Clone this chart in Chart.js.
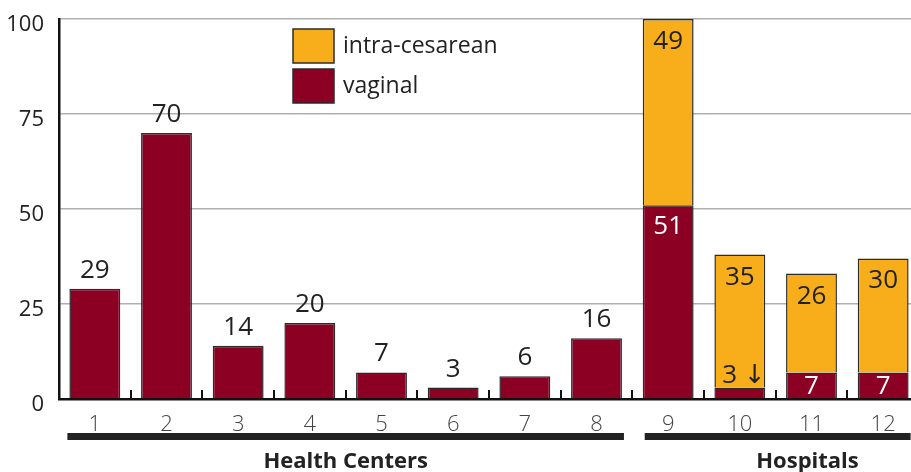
<!DOCTYPE html>
<html>
<head>
<meta charset="utf-8">
<script src="https://cdn.jsdelivr.net/npm/chart.js@4/dist/chart.umd.min.js"></script>
<style>
  html, body { margin:0; padding:0; background:#fff; overflow:hidden; }
  canvas { display:block; }
</style>
</head>
<body>
<!-- the last category runs a few pixels past the right edge of the window, as in the source -->
<canvas id="chart" width="919" height="472"></canvas>
<script>
// data
const categories = ['1','2','3','4','5','6','7','8','9','10','11','12'];
const vaginal = [29, 70, 14, 20, 7, 3, 6, 16, 51, 3, 7, 7];
const intraCesarean = [null, null, null, null, null, null, null, null, 49, 35, 26, 30];
const yTicks = [0, 25, 50, 75, 100];
const groupNames = ['Health Centers', 'Hospitals'];
const groupStart = [0, 8];
const groupEnd = [7, 11];

const MAROON = '#8c0024';
const ORANGE = '#f8ae1b';
const EDGE = '#2b2b2b';
const FONT = '"Open Sans", "DejaVu Sans", sans-serif';

// value labels on top of / inside the bars
const barLabels = {
  id: 'barLabels',
  afterDatasetsDraw(chart) {
    const ctx = chart.ctx;
    const vMeta = chart.getDatasetMeta(0);
    const cMeta = chart.getDatasetMeta(1);
    const bottom = chart.chartArea.bottom;
    ctx.save();
    ctx.font = '26px ' + FONT;
    ctx.textAlign = 'center';
    ctx.textBaseline = 'alphabetic';
    vaginal.forEach((v, i) => {
      const bar = vMeta.data[i];
      const c = intraCesarean[i];
      if (c == null) {
        ctx.fillStyle = '#222';
        ctx.fillText(String(v), bar.x, bar.y - 11);
      } else if (v < 5) {
        // too thin to hold its label: put it above, with an arrow
        ctx.fillStyle = '#222';
        ctx.fillText(v + ' \u2193', bar.x + 4, bar.y - 5);
      } else {
        ctx.fillStyle = '#fff';
        ctx.fillText(String(v), bar.x, Math.min(bar.y + 29, bottom - 5));
      }
      if (c != null) {
        const top = cMeta.data[i];
        ctx.fillStyle = '#222';
        ctx.fillText(String(c), top.x, top.y + 30);
      }
    });
    ctx.restore();
  }
};

// small upward ticks between categories, group brackets, legend
const decorations = {
  id: 'decorations',
  afterDraw(chart) {
    const ctx = chart.ctx;
    const xs = chart.scales.x;
    const area = chart.chartArea;
    const meta = chart.getDatasetMeta(0);
    ctx.save();
    // category separators
    ctx.strokeStyle = '#111';
    ctx.lineWidth = 2;
    for (let i = 0; i < categories.length - 1; i++) {
      const bx = Math.round((xs.getPixelForValue(i) + xs.getPixelForValue(i + 1)) / 2);
      ctx.beginPath();
      ctx.moveTo(bx, area.bottom);
      ctx.lineTo(bx, area.bottom - 9);
      ctx.stroke();
    }
    // brackets under groups
    ctx.fillStyle = '#222';
    ctx.font = 'bold 22px ' + FONT;
    ctx.textAlign = 'center';
    ctx.textBaseline = 'alphabetic';
    groupNames.forEach((name, g) => {
      const a = meta.data[groupStart[g]];
      const b = meta.data[groupEnd[g]];
      const x0 = a.x - a.width / 2 + (g === 0 ? -2 : 2);
      const x1 = b.x + b.width / 2 + 2;
      ctx.fillRect(x0, 433, x1 - x0, 7);
      const cx = g === 0 ? (x0 + x1) / 2 : (xs.getPixelForValue(groupStart[g] + 1) + xs.getPixelForValue(groupEnd[g])) / 2 - 4;
      ctx.fillText(name, cx, 468);
    });
    // legend
    const items = [[chart.data.datasets[1].label, ORANGE], [chart.data.datasets[0].label, MAROON]];
    ctx.font = '23px ' + FONT;
    ctx.textAlign = 'left';
    ctx.textBaseline = 'middle';
    items.forEach(([label, color], k) => {
      const y = 29 + k * 40;
      ctx.fillStyle = color;
      ctx.fillRect(293, y, 41, 34);
      ctx.strokeStyle = EDGE;
      ctx.lineWidth = 1.5;
      ctx.strokeRect(293, y, 41, 34);
      ctx.fillStyle = '#222';
      ctx.fillText(label, 343, y + 17);
    });
    ctx.restore();
  }
};

new Chart(document.getElementById('chart'), {
  type: 'bar',
  data: {
    labels: categories,
    datasets: [
      { label: 'vaginal', data: vaginal, backgroundColor: MAROON,
        borderColor: EDGE, borderWidth: 1.5 },
      { label: 'intra-cesarean', data: intraCesarean, backgroundColor: ORANGE,
        borderColor: EDGE, borderWidth: 1.5 }
    ]
  },
  options: {
    responsive: false,
    devicePixelRatio: 1,
    animation: false,
    layout: { padding: { top: 19, right: 0, left: 0, bottom: 0 } },
    datasets: { bar: { categoryPercentage: 1, barPercentage: 0.71 } },
    plugins: { legend: { display: false }, tooltip: { enabled: false } },
    scales: {
      x: {
        stacked: true,
        grid: { display: false },
        border: { display: true, color: '#111', width: 2.5 },
        ticks: { color: '#444', padding: 5, font: { family: FONT, size: 22, weight: 300 } },
        afterFit(scale) { scale.height = 73; scale.paddingLeft = 0; scale.paddingRight = 0; }
      },
      y: {
        stacked: true,
        min: 0, max: 100,
        afterBuildTicks(scale) { scale.ticks = yTicks.map(v => ({ value: v })); },
        grid: { color: '#b0b0b0', lineWidth: 1.5, drawTicks: false },
        border: { display: true, color: '#111', width: 2.5 },
        ticks: { color: '#222', padding: 15, labelOffset: 6, font: { family: FONT, size: 22 } },
        afterFit(scale) { scale.width = 59; scale.paddingTop = 0; scale.paddingBottom = 0; }
      }
    }
  },
  plugins: [barLabels, decorations]
});
</script>
</body>
</html>
